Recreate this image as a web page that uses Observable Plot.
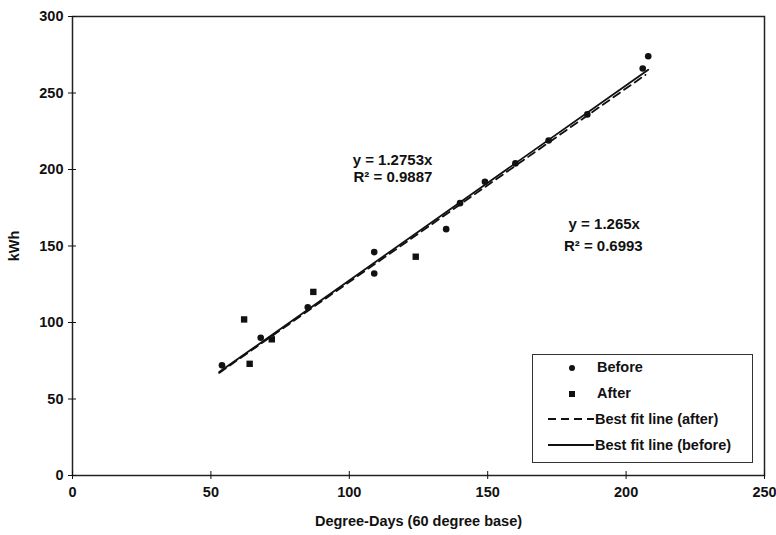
<!DOCTYPE html>
<html>
<head>
<meta charset="utf-8">
<script src="https://cdn.jsdelivr.net/npm/d3@7"></script>
<script src="https://cdn.jsdelivr.net/npm/@observablehq/plot@0.6"></script>
<style>
  html, body { margin: 0; padding: 0; background: #fff; }
  #wrap { position: relative; width: 776px; height: 535px; font-family: "Liberation Sans", Arial, sans-serif; }
  #legend { position: absolute; left: 532px; top: 354px; width: 221px; height: 109px; border: 1.5px solid #333; background: #fff; box-sizing: border-box; }
  #legend .row { position: absolute; left: 0; height: 20px; display: flex; align-items: center; font-size: 14.5px; font-weight: bold; color: #111; white-space: nowrap; }
  #legend svg { display: block; }
</style>
</head>
<body>
<div id="wrap"></div>
<script>
// Before (circles)
const beforeDD  = [54, 68, 85, 109, 109, 135, 140, 149, 160, 172, 186, 206, 208];
const beforeKWh = [72, 90, 110, 132, 146, 161, 178, 192, 204, 219, 236, 266, 274];
// After (squares)
const afterDD  = [62, 64, 72, 87, 124];
const afterKWh = [102, 73, 89, 120, 143];
// Fitted lines through origin
const fitNames  = ["Best fit line (after)", "Best fit line (before)"];
const fitSlopes = [1.265, 1.2753];
const fitFrom   = [53, 53];
const fitTo     = [207, 208];
// Equation labels
const eqText = ["y = 1.2753x", "R\u00b2 = 0.9887", "y = 1.265x", "R\u00b2 = 0.6993"];
const eqX    = [130, 130, 205, 206];
const eqY    = [206, 195, 164, 150];
// Axis ticks
const xTicks = [0, 50, 100, 150, 200, 250];
const yTicks = [0, 50, 100, 150, 200, 250, 300];

const before = beforeDD.map((d, i) => ({x: d, y: beforeKWh[i]}));
const after = afterDD.map((d, i) => ({x: d, y: afterKWh[i]}));
const fits = fitNames.flatMap((n, i) => [
  {name: n, x: fitFrom[i], y: fitFrom[i] * fitSlopes[i]},
  {name: n, x: fitTo[i], y: fitTo[i] * fitSlopes[i]}
]);
const eqs = eqText.map((t, i) => ({t, x: eqX[i], y: eqY[i]}));

const font = "Liberation Sans, Arial, sans-serif";
const chart = Plot.plot({
  width: 776,
  height: 535,
  marginLeft: 72,
  marginRight: 12,
  marginTop: 16,
  marginBottom: 60,
  style: {fontFamily: font, fontSize: "14.5px", fontWeight: "bold", color: "#111", background: "#fff"},
  x: {domain: [0, 250]},
  y: {domain: [0, 300]},
  marks: [
    Plot.frame({stroke: "#222", strokeWidth: 1.5}),
    Plot.axisX({ticks: xTicks, tickSize: 4, tickPadding: 7, label: "Degree-Days (60 degree base)", labelAnchor: "center", labelArrow: "none", labelOffset: 50, fontWeight: "bold"}),
    Plot.axisX({ticks: xTicks, tickSize: -4, text: null, label: null}),
    Plot.axisY({ticks: yTicks, tickSize: 4, tickPadding: 5, label: "kWh", labelAnchor: "center", labelArrow: "none", labelOffset: 64, fontWeight: "bold"}),
    Plot.axisY({ticks: yTicks, tickSize: -4, text: null, label: null}),
    Plot.line(fits.filter(d => d.name === fitNames[1]), {x: "x", y: "y", stroke: "#111", strokeWidth: 1.8}),
    Plot.line(fits.filter(d => d.name === fitNames[0]), {x: "x", y: "y", stroke: "#111", strokeWidth: 1.8, strokeDasharray: "8,5"}),
    Plot.dot(before, {x: "x", y: "y", r: 3.3, fill: "#111", stroke: "none"}),
    Plot.dot(after, {x: "x", y: "y", r: 3.6, symbol: "square", fill: "#111", stroke: "none"}),
    Plot.text(eqs, {x: "x", y: "y", text: "t", textAnchor: "end", fontSize: 15, fontWeight: "bold", fill: "#111"})
  ]
});
const wrap = document.getElementById("wrap");
wrap.appendChild(chart);

// Legend
const legendItems = [
  {label: "Before", kind: "circle"},
  {label: "After", kind: "square"},
  {label: fitNames[0], kind: "dash"},
  {label: fitNames[1], kind: "solid"}
];
const legend = document.createElement("div");
legend.id = "legend";
legendItems.forEach((it, i) => {
  const row = document.createElement("div");
  row.className = "row";
  row.style.top = (2 + i * 26) + "px";
  const ns = "http://www.w3.org/2000/svg";
  const svg = document.createElementNS(ns, "svg");
  svg.setAttribute("width", 62);
  svg.setAttribute("height", 20);
  let el;
  if (it.kind === "circle") {
    el = document.createElementNS(ns, "circle");
    el.setAttribute("cx", 39); el.setAttribute("cy", 11); el.setAttribute("r", 3);
    el.setAttribute("fill", "#111");
  } else if (it.kind === "square") {
    el = document.createElementNS(ns, "rect");
    el.setAttribute("x", 36); el.setAttribute("y", 8); el.setAttribute("width", 6); el.setAttribute("height", 6);
    el.setAttribute("fill", "#111");
  } else {
    el = document.createElementNS(ns, "line");
    el.setAttribute("x1", 15); el.setAttribute("x2", 61); el.setAttribute("y1", 10); el.setAttribute("y2", 10);
    el.setAttribute("stroke", "#111"); el.setAttribute("stroke-width", 1.8);
    if (it.kind === "dash") el.setAttribute("stroke-dasharray", "8,5");
  }
  svg.appendChild(el);
  row.appendChild(svg);
  const span = document.createElement("span");
  span.textContent = it.label;
  span.style.marginLeft = it.kind === "circle" || it.kind === "square" ? "2px" : "0px";
  row.appendChild(span);
  legend.appendChild(row);
});
wrap.appendChild(legend);
</script>
</body>
</html>
